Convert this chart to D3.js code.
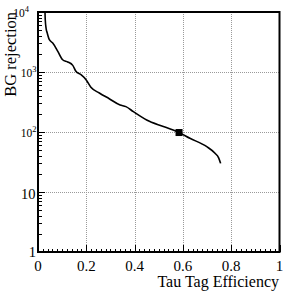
<!DOCTYPE html>
<html><head><meta charset="utf-8">
<script src="https://cdn.jsdelivr.net/npm/d3@7"></script>
<style>html,body{margin:0;padding:0;background:#fff;}svg{display:block;} text{font-family:"Liberation Serif","Tinos","Times New Roman","DejaVu Serif",serif;}</style>
</head><body>
<script>
const effX = [0.029, 0.030, 0.034, 0.038, 0.047, 0.061, 0.082, 0.102, 0.123, 0.144, 0.157, 0.178, 0.199, 0.219, 0.254, 0.295, 0.340, 0.364, 0.395, 0.450, 0.519, 0.584, 0.629, 0.699, 0.733, 0.748, 0.756];
const rejY = [10000, 7500, 5200, 4500, 3450, 3040, 2210, 1600, 1470, 1290, 1030, 902, 744, 556, 447, 359, 282, 265, 218, 158, 123, 98, 78.5, 56.9, 44.2, 37, 30];
const markerX = [0.584];
const markerY = [98];
const xTicks = [0, 0.2, 0.4, 0.6, 0.8, 1];
const xTickLabels = ["0", "0.2", "0.4", "0.6", "0.8", "1"];
const yTicks = [1, 10, 100, 1000, 10000];
const yTickBase = ["1", "10", "10", "10", "10"];
const yTickExp = ["", "", "2", "3", "4"];
const xTitle = "Tau Tag Efficiency";
const yTitle = "BG rejection";

const W = 294, H = 294;
const L = 38, R = 279.5, T = 12, B = 252;
const svg = d3.select("body").append("svg").attr("width", W).attr("height", H);
const x = d3.scaleLinear().domain([0, 1]).range([L, R]);
const y = d3.scaleLog().domain([1, 10000]).range([B, T]);

// grid
const grid = svg.append("g").attr("stroke", "#9a9a9a").attr("stroke-width", 1).attr("stroke-dasharray", "1,1");
xTicks.slice(1, -1).forEach(v => grid.append("line").attr("x1", Math.round(x(v)) + 0.5).attr("x2", Math.round(x(v)) + 0.5).attr("y1", T).attr("y2", B));
yTicks.slice(1, -1).forEach(v => grid.append("line").attr("y1", Math.round(y(v)) + 0.5).attr("y2", Math.round(y(v)) + 0.5).attr("x1", L).attr("x2", R));

// ticks
const tk = svg.append("g").attr("stroke", "#000").attr("stroke-width", 1);
for (let i = 0; i <= 50; i++) {
  const v = i / 50;
  const major = i % 10 === 0;
  const px = Math.round(x(v)) + 0.5;
  tk.append("line").attr("x1", px).attr("x2", px).attr("y1", B).attr("y2", B - (major ? 7 : 3));
}
for (let d = 0; d < 4; d++) {
  for (let m = 1; m <= 9; m++) {
    const v = m * Math.pow(10, d);
    const py = Math.round(y(v)) + 0.5;
    tk.append("line").attr("y1", py).attr("y2", py).attr("x1", L).attr("x2", L + (m === 1 ? 7 : 4));
  }
}

// frame
svg.append("rect").attr("x", L).attr("y", T).attr("width", R - L).attr("height", B - T)
  .attr("fill", "none").attr("stroke", "#000").attr("stroke-width", 2);

// curve
svg.append("defs").append("clipPath").attr("id", "clip").append("rect").attr("x", L).attr("y", T).attr("width", R - L).attr("height", B - T);
const line = d3.line().x((d, i) => x(effX[i])).y((d, i) => y(rejY[i])).curve(d3.curveMonotoneX);
svg.append("path").datum(effX).attr("d", line).attr("fill", "none").attr("stroke", "#000").attr("stroke-width", 1.6).attr("clip-path", "url(#clip)");

// marker
svg.selectAll("rect.mk").data(markerX).enter().append("rect").attr("class", "mk")
  .attr("x", (d, i) => x(d) - 3.5).attr("y", (d, i) => y(markerY[i]) - 3.5).attr("width", 7).attr("height", 7).attr("fill", "#000");

// x tick labels
xTicks.forEach((v, i) => {
  svg.append("text").attr("x", x(v)).attr("y", 270.5).attr("text-anchor", "middle")
    .attr("font-size", 15).text(xTickLabels[i]);
});

// y tick labels
yTicks.forEach((v, i) => {
  const ty = y(v);
  if (yTickExp[i] === "") {
    svg.append("text").attr("x", i === 0 ? 36 : 35.5).attr("y", ty + (i === 0 ? 5 : 7)).attr("text-anchor", "end")
      .attr("font-size", 14.5).text(yTickBase[i]);
  } else {
    const endX = i === 4 ? 29 : 36.5;
    const t = svg.append("text").attr("x", endX).attr("y", ty + 5.3).attr("text-anchor", "end")
      .attr("font-size", 11.5);
    t.append("tspan").text(yTickBase[i]);
    t.append("tspan").attr("font-size", 8.5).attr("dy", -5.3).text(yTickExp[i]);
  }
});

// titles
svg.append("text").attr("x", 279).attr("y", 286.5).attr("text-anchor", "end")
  .attr("font-size", 16).text(xTitle);
svg.append("text").attr("transform", "translate(16,12) rotate(-90)").attr("text-anchor", "end")
  .attr("font-size", 16.5).text(yTitle);
</script>
</body></html>
